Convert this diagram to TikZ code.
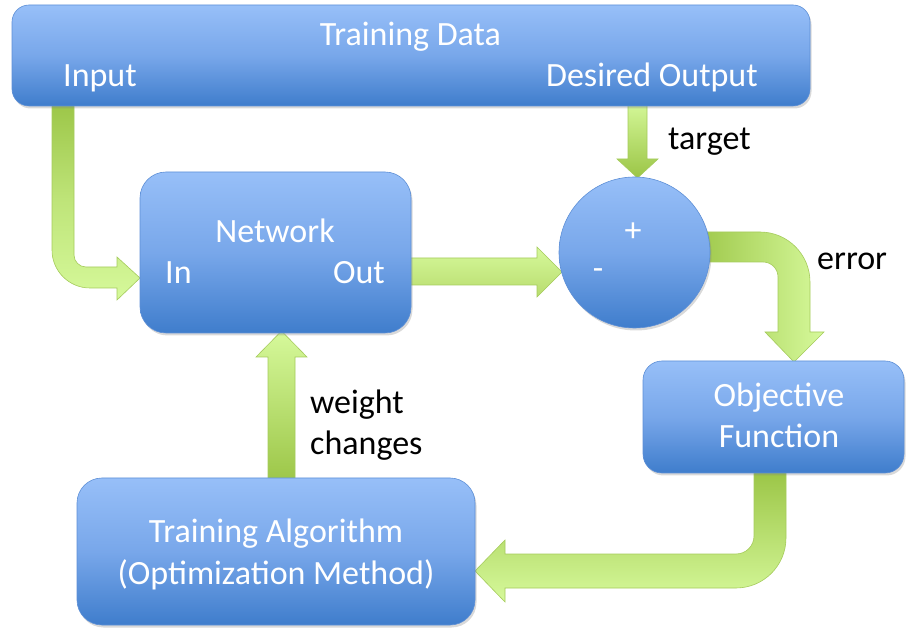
\documentclass[tikz,border=0pt]{standalone}
\usepackage{fontspec}
\setmainfont{Carlito}
\usetikzlibrary{shadows}
\definecolor{bluetop}{HTML}{97BFF8}
\definecolor{bluemid}{HTML}{78A7EA}
\definecolor{bluebot}{HTML}{3F7DCC}
\definecolor{blueline}{HTML}{5D8FD6}
\definecolor{gdark}{HTML}{9BC546}
\definecolor{gmid}{HTML}{B8DC6E}
\definecolor{glight}{HTML}{D6F99B}
\definecolor{gline}{HTML}{A5CB5C}
\tikzset{
  box/.style={draw=blueline, line width=0.6pt, top color=bluetop, bottom color=bluebot, middle color=bluemid,
    drop shadow={opacity=0.3, shadow xshift=1.5pt, shadow yshift=-2.5pt}, inner sep=0pt},
  garrow/.style={draw=gline, line width=0.6pt},
  wtxt/.style={text=white, font=\fontsize{34}{40}\selectfont, inner sep=0pt},
  btxt/.style={text=black, font=\fontsize{34}{40}\selectfont, inner sep=0pt},
}
\begin{document}
\begin{tikzpicture}[x=1pt,y=-1pt]
\useasboundingbox (0,0) rectangle (906,628);
% ---------- block arrows ----------
% Input -> Network
\shade[garrow, top color=gdark, bottom color=glight, middle color=glight!60!gdark]
  (52,100) -- (52,250) .. controls (52,271) and (69,288) .. (90,288) -- (117,288) -- (117,300)
  -- (140,278) -- (117,257) -- (117,267) -- (86,267) .. controls (79.4,267) and (74,261.6) .. (74,255)
  -- (74,100) -- cycle;
% target
\shade[garrow, top color=glight, bottom color=gdark]
  (628,100) -- (628,159) -- (617,159) -- (637.5,178) -- (658,159) -- (647,159) -- (647,100) -- cycle;
% Out -> circle
\shade[garrow, top color=glight, bottom color=gmid]
  (405,258) -- (537,258) -- (537,247) -- (562,272) -- (537,297) -- (537,285) -- (405,285) -- cycle;
% error
\shade[garrow, left color=gdark, right color=glight]
  (690,232) -- (760,232) .. controls (787.6,232) and (810,254.4) .. (810,282) -- (810,332) -- (824,332)
  -- (794,362) -- (765,332) -- (778,332) -- (778,277) .. controls (778,268.7) and (771.3,262) .. (763,262)
  -- (690,262) -- cycle;
% Objective -> Training Algorithm
\shade[garrow, top color=gdark, bottom color=glight]
  (754,470) -- (754,536) .. controls (754,545.9) and (746,554) .. (736,554) -- (505,554) -- (505,540)
  -- (475,571) -- (505,602) -- (505,588) -- (736,588) .. controls (763.6,588) and (786,565.6) .. (786,538)
  -- (786,470) -- cycle;
% weight changes
\shade[garrow, top color=glight, bottom color=gdark]
  (268,485) -- (268,357) -- (256,357) -- (281.5,331) -- (307,357) -- (295,357) -- (295,485) -- cycle;
% ---------- boxes ----------
\node[box, rounded corners=17pt, minimum width=798pt, minimum height=101pt] (td) at (411,55.5) {};
\node[box, rounded corners=26pt, minimum width=271pt, minimum height=161pt] (net) at (275.5,252.5) {};
\node[box, circle, minimum size=151pt] (sum) at (634.5,252.5) {};
\node[box, rounded corners=19pt, minimum width=261pt, minimum height=112pt] (obj) at (773.5,417) {};
\node[box, rounded corners=25pt, minimum width=398pt, minimum height=147pt] (alg) at (276,551.5) {};
% ---------- texts ----------
\node[wtxt, anchor=base] (tdtitle) at (410.5,46) {Training Data};
\node[wtxt, anchor=base west] (tdin) at (63,87) {Input};
\node[wtxt, anchor=base east] (tdout) at (758,87) {Desired Output};
\node[wtxt, anchor=base] (nettitle) at (275,243) {Network};
\node[wtxt, anchor=base west] (netin) at (165,284) {In};
\node[wtxt, anchor=base east] (netout) at (385,284) {Out};
\node[wtxt, anchor=center] (plus) at (633,232) {+};
\node[wtxt, anchor=center] (minus) at (598,274) {-};
\node[wtxt, anchor=base] (obj1) at (779,407) {Objective};
\node[wtxt, anchor=base] (obj2) at (779,448) {Function};
\node[wtxt, anchor=base] (alg1) at (276,543) {Training Algorithm};
\node[wtxt, anchor=base] (alg2) at (276,584) {(Optimization Method)};
\node[btxt, anchor=base west] (ltarget) at (668,150) {target};
\node[btxt, anchor=base west] (lerror) at (817,270) {error};
\node[btxt, anchor=base west] (lw1) at (310,414) {weight};
\node[btxt, anchor=base west] (lw2) at (310,455) {changes};
\end{tikzpicture}
\end{document}
